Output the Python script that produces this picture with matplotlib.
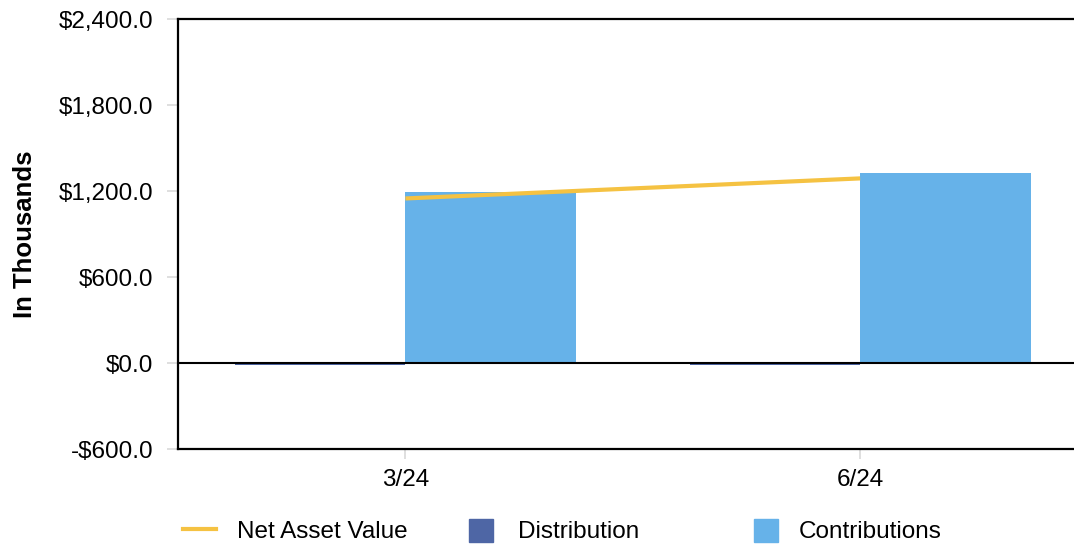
import matplotlib

matplotlib.use("Agg")
import matplotlib.pyplot as plt
from matplotlib.lines import Line2D
from matplotlib.patches import Patch
from matplotlib.ticker import FixedLocator, FuncFormatter

plt.rcParams["font.family"] = ["Liberation Sans", "DejaVu Sans"]

# quarterly values, in thousands of dollars
periods = ["3/24", "6/24"]
distribution = [-12.0, -10.0]
contributions = [1195.0, 1330.0]
net_asset_value = [1150.0, 1290.0]

y_ticks = [-600, 0, 600, 1200, 1800, 2400]

NAV_COLOR = "#F5C242"
DIST_COLOR = "#4E66A5"
CONTRIB_COLOR = "#66B2E9"
FONT_SIZE = 17.5


def money(v, _pos=None):
    sign = "-" if v < 0 else ""
    return f"{sign}${abs(v):,.1f}"


def main():
    fig = plt.figure(figsize=(10.74, 5.45), dpi=100)
    # right edge runs past the figure, so the last category band is clipped
    ax = fig.add_axes([178 / 1074, 1 - 449.3 / 545, 909.5 / 1074, 430 / 545])

    x = list(range(len(periods)))
    width = 0.375
    ax.bar([i - width / 2 for i in x], distribution, width=width, color=DIST_COLOR, zorder=2)
    ax.bar([i + width / 2 for i in x], contributions, width=width, color=CONTRIB_COLOR, zorder=2)
    ax.plot(x, net_asset_value, color=NAV_COLOR, linewidth=3.0, zorder=4, solid_capstyle="butt")
    ax.axhline(0, color="black", linewidth=1.5, zorder=3)

    ax.set_xlim(-0.5, len(periods) - 0.5)
    ax.set_ylim(y_ticks[0], y_ticks[-1])
    ax.yaxis.set_major_locator(FixedLocator(y_ticks))
    ax.yaxis.set_major_formatter(FuncFormatter(money))
    ax.set_xticks(x)
    ax.set_xticklabels(periods)

    ax.tick_params(axis="y", length=8, width=1.2, color="#d9d9d9", pad=10, labelsize=FONT_SIZE)
    ax.tick_params(axis="x", length=7, width=1.2, color="#d9d9d9", pad=7, labelsize=FONT_SIZE)

    for side in ["left", "top", "bottom"]:
        ax.spines[side].set_color("black")
        ax.spines[side].set_linewidth(1.6)
    ax.spines["right"].set_visible(False)

    fig.text(25 / 1074, 1 - 234 / 545, "In Thousands", rotation=90, ha="center", va="center",
             fontsize=18.5, fontweight="bold")

    # three single-entry legends so the entries sit at fixed spacing
    legend_y = 1 - 531 / 545
    entries = [
        (Line2D([], [], color=NAV_COLOR, linewidth=3.0), "Net Asset Value", 183, 1.36, 0.86),
        (Patch(color=DIST_COLOR), "Distribution", 469, 0.99, 1.03),
        (Patch(color=CONTRIB_COLOR), "Contributions", 754, 0.99, 0.86),
    ]
    for handle, label, left_px, hlen, pad in entries:
        fig.legend([handle], [label], loc="center left", bbox_to_anchor=(left_px / 1074, legend_y),
                   frameon=False, fontsize=FONT_SIZE, borderpad=0, borderaxespad=0,
                   handlelength=hlen, handleheight=1.07, handletextpad=pad)

    fig.savefig("out.png", dpi=100)
    plt.close(fig)


if __name__ == "__main__":
    main()
